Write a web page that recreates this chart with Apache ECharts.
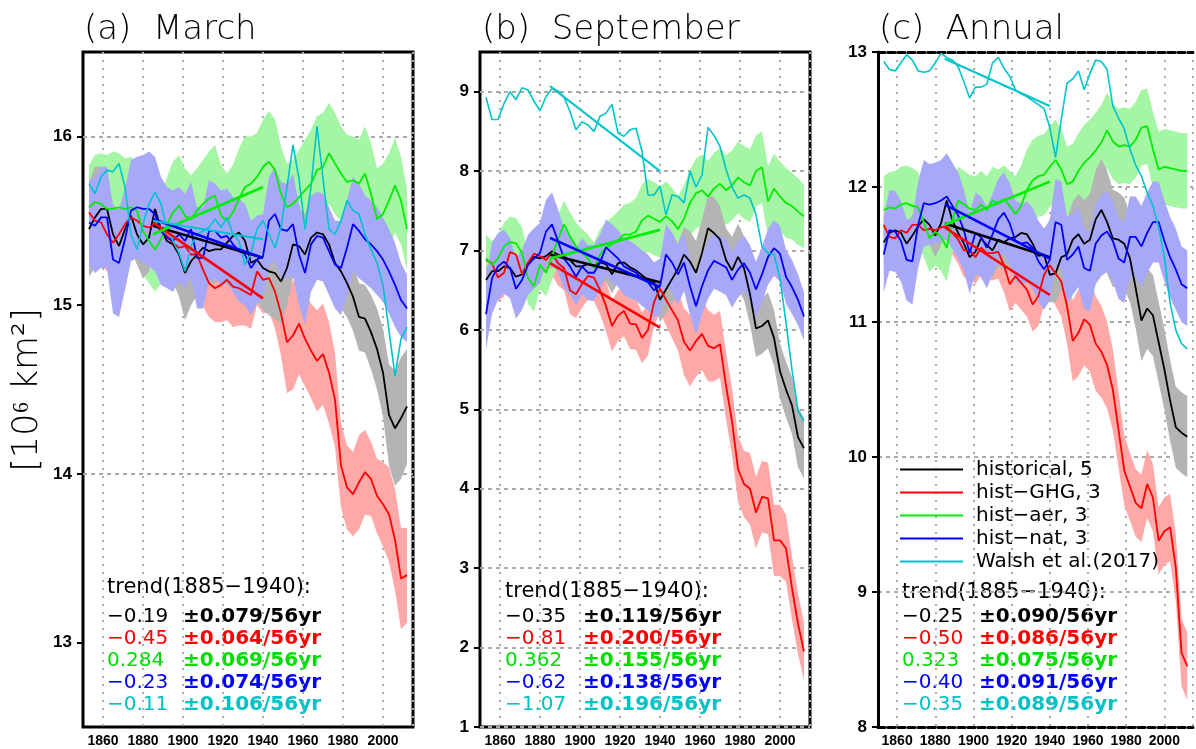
<!DOCTYPE html>
<html>
<head>
<meta charset="utf-8">
<title>Arctic sea ice extent</title>
<script src="https://cdn.jsdelivr.net/npm/echarts@6/dist/echarts.min.js"></script>
<style>
  html, body { margin: 0; padding: 0; background: #fff; }
  #chart { width: 1196px; height: 749px; }
</style>
</head>
<body>
<div id="chart"></div>
<script>
// sample years of the smoothed curves
const years = [1853,1856,1859,1862,1865,1868,1871,1874,1877,1880,1883,1886,1889,1892,1895,1898,1901,1904,1907,1910,
  1913,1916,1919,1922,1925,1928,1931,1934,1937,1940,1943,1946,1949,1952,1955,1958,1961,1964,1967,1970,
  1973,1976,1979,1982,1985,1988,1991,1994,1997,2000,2003,2006,2009,2012];
const trendYears = [1885, 1940];

const names = ['historical, 5', 'hist−GHG, 3', 'hist−aer, 3', 'hist−nat, 3', 'Walsh et al.(2017)'];

// (a) March
const marHist = [15.45,15.52,15.57,15.57,15.42,15.35,15.45,15.53,15.42,15.36,
  15.40,15.57,15.45,15.38,15.36,15.30,15.19,15.26,15.30,15.34,
  15.32,15.33,15.33,15.37,15.41,15.43,15.38,15.25,15.27,15.22,
  15.20,15.19,15.14,15.22,15.36,15.35,15.30,15.40,15.43,15.42,
  15.36,15.25,15.20,15.13,15.05,14.93,14.92,14.84,14.74,14.60,
  14.35,14.27,14.33,14.40];
const marGhg = [15.55,15.50,15.49,15.42,15.37,15.42,15.48,15.52,15.50,15.47,
  15.46,15.48,15.44,15.41,15.37,15.34,15.35,15.30,15.30,15.21,
  15.13,15.10,15.12,15.15,15.11,15.10,15.08,15.06,15.20,15.15,
  15.16,15.08,14.95,14.78,14.82,14.89,14.80,14.73,14.67,14.71,
  14.60,14.44,14.05,13.92,13.88,13.95,14.01,13.97,13.87,13.82,
  13.76,13.61,13.38,13.40];
const marAer = [15.58,15.61,15.60,15.57,15.57,15.58,15.57,15.58,15.56,15.44,
  15.38,15.33,15.39,15.48,15.55,15.59,15.53,15.51,15.56,15.60,
  15.63,15.65,15.53,15.50,15.55,15.63,15.70,15.72,15.76,15.82,
  15.85,15.80,15.66,15.58,15.60,15.64,15.68,15.72,15.80,15.82,
  15.90,15.84,15.78,15.73,15.74,15.72,15.78,15.66,15.51,15.54,
  15.62,15.71,15.62,15.45];
const marNat = [15.49,15.47,15.52,15.52,15.27,15.25,15.39,15.56,15.58,15.57,
  15.57,15.54,15.44,15.40,15.38,15.42,15.38,15.45,15.28,15.28,
  15.44,15.44,15.40,15.41,15.36,15.32,15.30,15.22,15.27,15.29,
  15.50,15.54,15.45,15.44,15.48,15.30,15.19,15.36,15.41,15.40,
  15.32,15.24,15.22,15.34,15.48,15.44,15.39,15.36,15.32,15.27,
  15.20,15.12,15.03,14.98];
const marWalsh = [15.72,15.66,15.76,15.80,15.79,15.84,15.70,15.42,15.33,15.48,
  15.60,15.67,15.60,15.45,15.38,15.31,15.20,15.35,15.42,15.44,
  15.46,15.51,15.46,15.52,15.42,15.38,15.24,15.31,15.45,15.50,
  15.42,15.34,15.46,15.70,15.95,15.75,15.45,15.70,16.06,15.75,
  15.45,15.42,15.50,15.62,15.56,15.54,15.42,15.33,15.25,15.12,
  14.85,14.58,14.80,14.87];
const marHistSpread = [0.28,0.30,0.25,0.20,0.18,0.20,0.22,0.20,0.18,0.20,
  0.20,0.18,0.20,0.22,0.22,0.25,0.28,0.26,0.24,0.22,
  0.20,0.20,0.18,0.20,0.20,0.20,0.22,0.24,0.24,0.25,
  0.26,0.27,0.25,0.22,0.20,0.22,0.24,0.25,0.24,0.22,
  0.22,0.24,0.22,0.20,0.20,0.20,0.20,0.22,0.24,0.26,
  0.30,0.34,0.36,0.34];
const marGhgSpread = [0.20,0.22,0.25,0.22,0.20,0.18,0.15,0.15,0.15,0.15,
  0.15,0.15,0.15,0.15,0.15,0.18,0.20,0.20,0.22,0.22,
  0.20,0.20,0.22,0.24,0.24,0.22,0.20,0.20,0.20,0.20,
  0.20,0.22,0.25,0.30,0.32,0.30,0.28,0.28,0.30,0.30,
  0.30,0.28,0.25,0.25,0.25,0.28,0.25,0.22,0.22,0.25,
  0.28,0.30,0.30,0.28];
const marAerSpread = [0.25,0.28,0.30,0.32,0.34,0.32,0.30,0.30,0.28,0.26,
  0.25,0.25,0.26,0.28,0.30,0.30,0.28,0.26,0.25,0.26,
  0.28,0.30,0.30,0.28,0.28,0.30,0.30,0.28,0.26,0.28,
  0.30,0.30,0.28,0.26,0.26,0.28,0.30,0.32,0.32,0.32,
  0.30,0.30,0.28,0.28,0.26,0.26,0.28,0.30,0.30,0.30,
  0.28,0.28,0.26,0.24];
const marNatSpread = [0.25,0.28,0.30,0.30,0.32,0.32,0.30,0.30,0.30,0.32,
  0.34,0.34,0.32,0.30,0.30,0.28,0.28,0.28,0.30,0.30,
  0.30,0.28,0.28,0.28,0.28,0.30,0.30,0.28,0.26,0.25,
  0.26,0.28,0.28,0.28,0.30,0.30,0.30,0.28,0.26,0.26,
  0.26,0.26,0.28,0.28,0.28,0.28,0.26,0.26,0.26,0.25,
  0.25,0.25,0.22,0.20];
const marTrendStart = [15.47, 15.49, 15.42, 15.51, 15.50];
const marTrendEnd = [15.28, 15.04, 15.70, 15.28, 15.39];
const marTrendValue = ['−0.19', '−0.45', '0.284', '−0.23', '−0.11'];
const marTrendError = ['±0.079/56yr', '±0.064/56yr', '±0.069/56yr', '±0.074/56yr', '±0.106/56yr'];

// (b) September
const sepHist = [6.63,6.74,6.74,6.80,6.78,6.67,6.70,6.84,6.92,6.90,
  6.93,6.99,6.95,6.92,6.88,6.80,6.80,6.83,6.81,6.85,
  6.83,6.70,6.84,6.85,6.79,6.75,6.69,6.63,6.60,6.38,
  6.51,6.64,6.77,6.95,6.86,6.72,6.97,7.28,7.22,7.14,
  6.88,6.75,6.92,6.78,6.45,6.02,6.05,6.12,5.90,5.48,
  5.25,5.05,4.65,4.51];
const sepGhg = [6.88,6.84,6.66,6.72,6.98,6.95,6.70,6.85,6.96,6.93,
  6.88,6.97,6.84,6.78,6.50,6.45,6.58,6.68,6.66,6.50,
  6.30,6.05,6.18,6.24,6.08,6.07,5.90,6.00,6.35,6.52,
  6.38,6.25,6.12,5.85,5.74,5.86,5.95,5.80,5.77,5.82,
  5.30,4.85,4.25,4.06,4.00,3.70,3.90,3.88,3.35,3.35,
  3.25,2.75,2.30,1.95];
const sepAer = [6.90,6.82,6.90,7.05,7.11,7.09,6.97,6.65,6.55,6.82,
  6.72,6.93,7.14,7.33,7.18,7.05,6.97,6.90,6.78,6.95,
  7.04,7.08,7.13,7.20,7.20,7.24,7.38,7.44,7.40,7.36,
  7.43,7.37,7.27,7.40,7.60,7.72,7.76,7.68,7.78,7.84,
  7.76,7.82,7.92,7.86,7.82,8.00,8.05,7.62,7.78,7.68,
  7.60,7.56,7.49,7.43];
const sepNat = [6.20,6.65,6.80,6.86,6.78,6.52,6.63,6.82,6.90,6.97,
  7.24,7.33,7.12,6.90,6.80,6.67,6.80,6.72,6.72,6.85,
  7.04,6.97,6.90,6.80,6.76,6.72,6.65,6.60,6.50,6.55,
  6.95,6.85,6.70,6.85,6.55,6.30,6.55,6.75,6.87,6.83,
  6.79,6.63,6.76,6.84,6.72,6.51,6.70,6.92,7.03,6.96,
  6.67,6.54,6.38,6.17];
const sepWalsh = [8.93,8.65,8.65,8.85,9.00,8.90,9.05,9.02,8.88,8.76,
  8.94,9.04,9.01,8.93,8.75,8.52,8.62,8.58,8.50,8.69,
  8.73,8.84,8.48,8.44,8.52,8.54,8.25,7.70,7.70,7.81,
  7.45,7.70,7.68,7.60,8.00,7.80,7.95,8.55,8.45,8.31,
  8.02,7.80,7.66,7.70,7.66,7.45,7.05,6.97,6.95,6.65,
  6.09,5.50,4.98,4.85];
const sepHistSpread = [0.15,0.18,0.20,0.18,0.16,0.15,0.15,0.16,0.18,0.18,
  0.18,0.20,0.20,0.20,0.20,0.22,0.22,0.22,0.22,0.22,
  0.22,0.24,0.24,0.24,0.24,0.25,0.25,0.25,0.26,0.28,
  0.30,0.30,0.32,0.35,0.38,0.40,0.42,0.42,0.45,0.42,
  0.40,0.42,0.42,0.40,0.38,0.36,0.35,0.35,0.35,0.35,
  0.35,0.36,0.38,0.38];
const sepGhgSpread = [0.25,0.28,0.30,0.30,0.30,0.28,0.28,0.28,0.28,0.28,
  0.28,0.28,0.28,0.28,0.30,0.30,0.30,0.30,0.30,0.30,
  0.32,0.32,0.32,0.32,0.32,0.32,0.32,0.32,0.30,0.30,
  0.32,0.35,0.38,0.42,0.45,0.45,0.45,0.45,0.42,0.42,
  0.42,0.42,0.42,0.42,0.45,0.45,0.45,0.45,0.45,0.45,
  0.42,0.40,0.38,0.36];
const sepAerSpread = [0.30,0.30,0.30,0.30,0.32,0.32,0.32,0.32,0.32,0.30,
  0.30,0.30,0.30,0.30,0.30,0.30,0.30,0.30,0.32,0.32,
  0.32,0.34,0.36,0.38,0.40,0.42,0.45,0.46,0.46,0.45,
  0.44,0.42,0.42,0.42,0.42,0.44,0.45,0.45,0.45,0.45,
  0.44,0.44,0.45,0.46,0.46,0.45,0.45,0.44,0.44,0.44,
  0.44,0.42,0.42,0.40];
const sepNatSpread = [0.45,0.45,0.42,0.40,0.38,0.38,0.38,0.38,0.38,0.38,
  0.40,0.40,0.40,0.38,0.36,0.36,0.35,0.35,0.35,0.35,
  0.35,0.36,0.36,0.36,0.36,0.35,0.35,0.35,0.35,0.35,
  0.38,0.38,0.38,0.36,0.36,0.36,0.36,0.36,0.35,0.35,
  0.35,0.35,0.35,0.35,0.35,0.35,0.35,0.35,0.35,0.35,
  0.34,0.34,0.32,0.30];
const sepTrendStart = [6.95, 6.84, 6.90, 7.16, 9.07];
const sepTrendEnd = [6.60, 6.03, 7.26, 6.54, 8.00];
const sepTrendValue = ['−0.35', '−0.81', '0.362', '−0.62', '−1.07'];
const sepTrendError = ['±0.119/56yr', '±0.200/56yr', '±0.155/56yr', '±0.138/56yr', '±0.196/56yr'];

// (c) Annual
const annHist = [11.59,11.66,11.68,11.66,11.58,11.64,11.71,11.76,11.72,11.64,
  11.73,11.90,11.75,11.66,11.58,11.48,11.52,11.62,11.57,11.53,
  11.61,11.59,11.62,11.63,11.66,11.65,11.58,11.49,11.50,11.35,
  11.36,11.48,11.50,11.61,11.65,11.58,11.61,11.76,11.83,11.74,
  11.62,11.61,11.58,11.47,11.25,11.01,11.10,11.05,10.85,10.65,
  10.42,10.22,10.18,10.15];
const annGhg = [11.72,11.63,11.62,11.68,11.66,11.72,11.72,11.68,11.69,11.68,
  11.70,11.71,11.66,11.61,11.53,11.53,11.48,11.55,11.51,11.51,
  11.52,11.42,11.28,11.34,11.29,11.24,11.13,11.19,11.35,11.42,
  11.36,11.30,11.12,10.86,10.92,11.02,10.98,10.84,10.78,10.68,
  10.50,10.20,9.90,9.78,9.66,9.62,9.80,9.70,9.38,9.45,
  9.48,9.18,8.55,8.45];
const annAer = [11.83,11.85,11.84,11.87,11.88,11.86,11.85,11.74,11.62,11.67,
  11.63,11.55,11.76,11.90,11.87,11.84,11.83,11.87,11.83,11.90,
  11.88,11.91,11.86,11.80,11.86,11.98,12.05,12.08,12.09,12.15,
  12.20,12.13,12.02,12.04,12.12,12.18,12.22,12.27,12.33,12.42,
  12.34,12.30,12.31,12.30,12.35,12.44,12.45,12.28,12.13,12.15,
  12.14,12.13,12.12,12.12];
const annNat = [11.50,11.68,11.67,11.60,11.46,11.45,11.72,11.88,11.87,11.88,
  11.90,11.93,11.86,11.79,11.68,11.51,11.66,11.63,11.55,11.65,
  11.76,11.81,11.73,11.60,11.58,11.59,11.55,11.45,11.39,11.46,
  11.74,11.72,11.46,11.50,11.56,11.40,11.38,11.58,11.64,11.67,
  11.60,11.47,11.44,11.63,11.63,11.56,11.66,11.74,11.74,11.60,
  11.48,11.39,11.28,11.25];
const annWalsh = [12.93,12.87,12.86,12.92,12.98,12.94,12.86,12.85,12.86,12.92,
  12.99,12.96,12.94,12.89,12.78,12.66,12.74,12.74,12.76,12.92,
  12.96,12.88,12.82,12.72,12.69,12.67,12.64,12.61,12.58,12.44,
  12.22,12.50,12.77,12.80,12.86,12.72,12.84,12.94,12.93,12.87,
  12.60,12.51,12.43,12.28,12.16,12.08,11.96,11.86,11.70,11.48,
  11.14,10.94,10.84,10.80];
const annHistSpread = [0.15,0.15,0.15,0.15,0.15,0.15,0.15,0.15,0.15,0.16,
  0.16,0.18,0.18,0.18,0.18,0.20,0.20,0.20,0.20,0.20,
  0.20,0.20,0.20,0.20,0.20,0.20,0.20,0.20,0.20,0.20,
  0.22,0.24,0.26,0.28,0.30,0.32,0.34,0.36,0.38,0.38,
  0.36,0.35,0.34,0.32,0.30,0.30,0.30,0.30,0.30,0.30,
  0.30,0.30,0.30,0.30];
const annGhgSpread = [0.15,0.15,0.16,0.16,0.16,0.16,0.15,0.15,0.15,0.15,
  0.15,0.15,0.16,0.18,0.20,0.20,0.20,0.20,0.20,0.20,
  0.20,0.20,0.20,0.20,0.20,0.20,0.20,0.22,0.22,0.22,
  0.24,0.26,0.28,0.30,0.32,0.34,0.35,0.35,0.34,0.32,
  0.30,0.28,0.26,0.25,0.25,0.25,0.25,0.25,0.25,0.25,
  0.25,0.25,0.25,0.25];
const annAerSpread = [0.25,0.26,0.28,0.28,0.28,0.28,0.26,0.26,0.25,0.25,
  0.25,0.25,0.25,0.25,0.25,0.25,0.25,0.25,0.25,0.25,
  0.25,0.25,0.26,0.28,0.30,0.30,0.30,0.30,0.30,0.30,
  0.30,0.30,0.28,0.28,0.28,0.28,0.28,0.28,0.28,0.28,
  0.28,0.28,0.28,0.28,0.28,0.28,0.28,0.28,0.28,0.28,
  0.28,0.28,0.28,0.28];
const annNatSpread = [0.28,0.30,0.30,0.30,0.30,0.32,0.32,0.32,0.30,0.30,
  0.30,0.32,0.32,0.32,0.30,0.30,0.30,0.30,0.30,0.30,
  0.30,0.30,0.30,0.30,0.30,0.30,0.30,0.30,0.30,0.30,
  0.32,0.32,0.32,0.30,0.30,0.30,0.30,0.30,0.30,0.30,
  0.30,0.30,0.30,0.30,0.30,0.30,0.30,0.30,0.30,0.30,
  0.30,0.30,0.28,0.28];
const annTrendStart = [11.73, 11.70, 11.72, 11.87, 12.95];
const annTrendEnd = [11.48, 11.20, 12.04, 11.47, 12.60];
const annTrendValue = ['−0.25', '−0.50', '0.323', '−0.40', '−0.35'];
const annTrendError = ['±0.090/56yr', '±0.086/56yr', '±0.075/56yr', '±0.091/56yr', '±0.089/56yr'];

// styling
const lineColors = ['#000000', '#ff0000', '#00ee00', '#0000ff', '#00c4cc'];
const textColors = ['#000000', '#ff0000', '#00dd00', '#0000ff', '#00c0c8'];
const bandColors = ['#b4b4b4', '#ffa8a8', '#a4f5a4', '#a8a8f8'];
const bandOrder = [1, 2, 0, 3]; // ghg, aer, hist, nat (bottom to top)
const txtFont = 'DejaVu Sans';
const tickFont = 'Liberation Sans';

const panels = [
  { title: '(a)  March', left: 83, titleX: 84, yMin: 12.5, yMax: 16.5, yStep: 0.5, yTicks: [13, 14, 15, 16],
    lines: [marHist, marGhg, marAer, marNat, marWalsh],
    spread: [marHistSpread, marGhgSpread, marAerSpread, marNatSpread],
    tStart: marTrendStart, tEnd: marTrendEnd, tVal: marTrendValue, tErr: marTrendError,
    textX: [107, 183], headY: 588 },
  { title: '(b)  September', left: 480, titleX: 482, yMin: 1, yMax: 9.5, yStep: 1, yTicks: [1,2,3,4,5,6,7,8,9],
    lines: [sepHist, sepGhg, sepAer, sepNat, sepWalsh],
    spread: [sepHistSpread, sepGhgSpread, sepAerSpread, sepNatSpread],
    tStart: sepTrendStart, tEnd: sepTrendEnd, tVal: sepTrendValue, tErr: sepTrendError,
    textX: [505, 583], headY: 592 },
  { title: '(c)  Annual', left: 878, titleX: 879, yMin: 8, yMax: 13, yStep: 1, yTicks: [8,9,10,11,12,13],
    lines: [annHist, annGhg, annAer, annNat, annWalsh],
    spread: [annHistSpread, annGhgSpread, annAerSpread, annNatSpread],
    tStart: annTrendStart, tEnd: annTrendEnd, tVal: annTrendValue, tErr: annTrendError,
    textX: [902, 979], headY: 593 }
];
const rowY = [617, 639, 661, 683, 705];

// one filled polygon per ensemble range, drawn through the axis scales
function bandItem(params, api) {
  if (params.dataIndexInside !== 0) return null;
  const n = params.dataInsideLength;
  const upper = [], lower = [];
  for (let i = 0; i < n; i++) {
    const x = api.value(0, i);
    upper.push(api.coord([x, api.value(2, i)]));
    lower.unshift(api.coord([x, api.value(1, i)]));
  }
  return { type: 'polygon', shape: { points: upper.concat(lower) }, style: { fill: api.visual('color') } };
}

const grid = [], xAxis = [], yAxis = [], series = [], graphic = [], title = [];

panels.forEach((p, k) => {
  const open = k === 2;
  grid.push({ left: p.left, top: 52, width: 330, height: 675, show: !open, borderColor: '#000', borderWidth: 3 });
  title.push({ text: p.title, left: p.titleX, top: 13, padding: 0,
    textStyle: { fontFamily: txtFont, fontSize: 34, fontWeight: 300, color: '#000' } });

  xAxis.push({
    type: 'value', gridIndex: k, min: 1850, max: 2015, interval: 10,
    axisLine: { show: open, onZero: false, lineStyle: { color: '#000', width: 3, type: [7, 3] } },
    axisTick: { show: false },
    axisLabel: {
      formatter: v => (v >= 1860 && v <= 2000 && (v - 1860) % 20 === 0) ? String(v) : '',
      fontFamily: tickFont, fontWeight: 'bold', fontSize: 14, color: '#000', margin: 7
    },
    splitLine: { show: true, lineStyle: { color: ['rgba(0,0,0,0)', '#aaaaaa'], width: 2, type: [2, 6] } }
  });
  yAxis.push({
    type: 'value', gridIndex: k, min: p.yMin, max: p.yMax, interval: p.yStep,
    axisLine: { show: open, onZero: false, lineStyle: { color: '#000', width: 3 } },
    axisTick: { show: true, length: 6, customValues: p.yTicks, lineStyle: { color: '#000', width: 2 } },
    axisLabel: {
      formatter: v => Number.isInteger(v) && !(v > 9 && k === 1) ? String(v) : '',
      fontFamily: tickFont, fontWeight: 'bold', fontSize: 17, color: '#000', margin: 11
    },
    splitLine: { show: true, lineStyle: {
      color: p.yStep === 0.5 ? ['rgba(0,0,0,0)', '#aaaaaa'] : '#aaaaaa', width: 2, type: [4, 4] } }
  });

  bandOrder.forEach(m => {
    const mean = p.lines[m], half = p.spread[m];
    series.push({ type: 'custom', xAxisIndex: k, yAxisIndex: k, renderItem: bandItem, clip: true, silent: true,
      itemStyle: { color: bandColors[m] }, encode: { x: 0, y: [1, 2] },
      data: years.map((y, i) => [y, mean[i] - half[i], mean[i] + half[i]]) });
  });

  p.lines.forEach((vals, m) => {
    series.push({ name: names[m], type: 'line', xAxisIndex: k, yAxisIndex: k, symbol: 'none',
      itemStyle: { color: lineColors[m] },
      lineStyle: { color: lineColors[m], width: m === 4 ? 1.6 : 1.8 },
      data: years.map((y, i) => [y, vals[i]]) });
  });

  p.tStart.forEach((s, m) => {
    series.push({ type: 'line', xAxisIndex: k, yAxisIndex: k, symbol: 'none', silent: true,
      lineStyle: { color: lineColors[m], width: m === 4 ? 2 : 2.6 },
      data: [[trendYears[0], s], [trendYears[1], p.tEnd[m]]] });
  });

  graphic.push({ type: 'text', x: p.textX[0], y: p.headY,
    style: { text: 'trend(1885−1940):', fill: '#000', fontFamily: txtFont, fontSize: 21, verticalAlign: 'middle' } });
  p.tVal.forEach((t, m) => {
    graphic.push({ type: 'text', x: p.textX[0], y: rowY[m],
      style: { text: t, fill: textColors[m], fontFamily: txtFont, fontSize: 20, verticalAlign: 'middle' } });
    graphic.push({ type: 'text', x: p.textX[1], y: rowY[m],
      style: { text: p.tErr[m], fill: textColors[m], fontFamily: txtFont, fontSize: 20, fontWeight: 'bold', verticalAlign: 'middle' } });
  });
});

// top frame line of the annual panel
xAxis.push({ type: 'value', gridIndex: 2, position: 'top', min: 1850, max: 2015,
  axisLine: { show: true, onZero: false, lineStyle: { color: '#000', width: 3, type: [7, 3] } },
  axisTick: { show: false }, axisLabel: { show: false }, splitLine: { show: false } });

graphic.push({ type: 'text', x: 28, y: 390, rotation: Math.PI / 2,
  style: { text: '[10⁶ km²]', fill: '#000', fontFamily: txtFont, fontSize: 35, fontWeight: 300, align: 'center', verticalAlign: 'middle' } });

const chart = echarts.init(document.getElementById('chart'));
chart.setOption({
  animation: false,
  backgroundColor: '#fff',
  title,
  grid,
  xAxis,
  yAxis,
  legend: {
    data: names, orient: 'vertical', left: 900, top: 458, padding: 0,
    icon: 'rect', itemWidth: 63, itemHeight: 2, itemGap: 0, selectedMode: false,
    textStyle: { fontFamily: txtFont, fontSize: 20, color: '#000', lineHeight: 23, padding: [0, 0, 0, 8] }
  },
  series,
  graphic
});
</script>
</body>
</html>
